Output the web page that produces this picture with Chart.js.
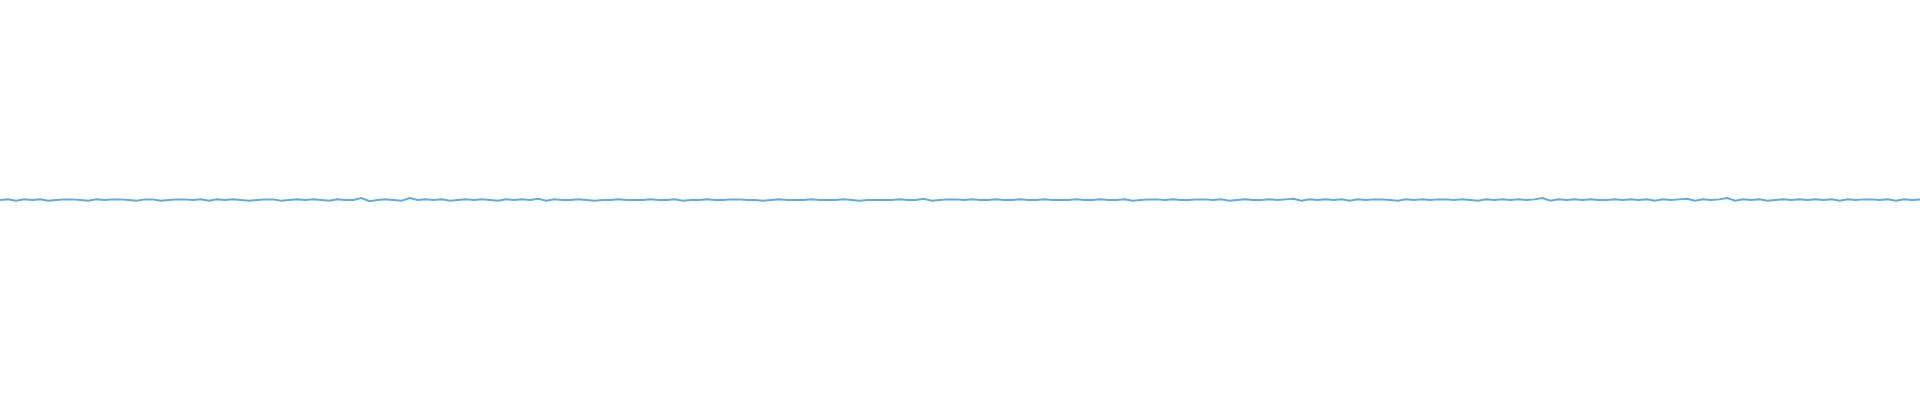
<!DOCTYPE html>
<html>
<head>
<meta charset="utf-8">
<script src="https://cdn.jsdelivr.net/npm/chart.js@4"></script>
<style>
  html, body { margin: 0; padding: 0; background: #ffffff; }
  #wrap { width: 1920px; height: 400px; position: relative; }
</style>
</head>
<body>
<div id="wrap"><canvas id="spark"></canvas></div>
<script>
// values, one per ~8px, small offsets from the flat baseline
let seg_a = [0,1,-1,1,0,1,-1,0,1,1,0,-1,1,0,1,1,0,-1,1,1,-1,0,1,1,0,1,-1,1,0,1,0,-1,0,1,1,-1,0,1,0,1,0,-1,1,0,0,3,-2,0,1,0,-1,3,0,1,0,1,-1,0,1,0];
let seg_b = [1,0,-1,1,0,1,0,2,-1,1,0,0,1,0,-1,0,0,1,0,0,0,1,0,0,1,-1,0,0,1,0,0,1,1,0,0,-1,0,1,0,0,0,1,0,0,0,1,0,-1,0,0,0,0,1,0,0,2,-1,0,1,1];
let seg_c = [0,1,0,0,1,0,0,1,0,0,1,0,0,0,1,0,0,1,0,0,1,-1,0,1,1,0,1,0,0,1,1,0,1,-1,0,1,0,0,1,0,1,2,-1,1,0,1,0,1,-1,1,0,1,1,0,-1,1,0,1,0,1];
let seg_d = [1,0,1,0,-1,1,0,1,0,1,0,1,3,-1,1,0,1,0,1,0,0,1,0,1,0,1,-1,1,0,1,2,-1,1,0,1,3,-1,1,0,1,-1,0,1,0,1,0,1,0,1,-1,1,0,1,1,0,1,-1,1,0,1];

let values = seg_a.concat(seg_b, seg_c, seg_d);
let labels = values.map((v, i) => i);

let ctx = document.getElementById('spark').getContext('2d');
let myChart = new Chart(ctx, {
    type: 'line',
    data: {
        labels: labels,
        datasets: [{
            data: values,
            borderColor: 'rgb(93, 173, 226)',
            borderWidth: 2,
            pointRadius: 0,
            tension: 0,
            fill: false,
        }],
    },
    options: {
        responsive: true,
        maintainAspectRatio: false,
        animation: false,
        layout: { padding: 0 },
        plugins: {
            legend: { display: false },
            tooltip: { enabled: false }
        },
        scales: {
            x: { display: false, offset: false },
            y: { display: false, min: -320, max: 320 },
        },
    }
});
</script>
</body>
</html>
